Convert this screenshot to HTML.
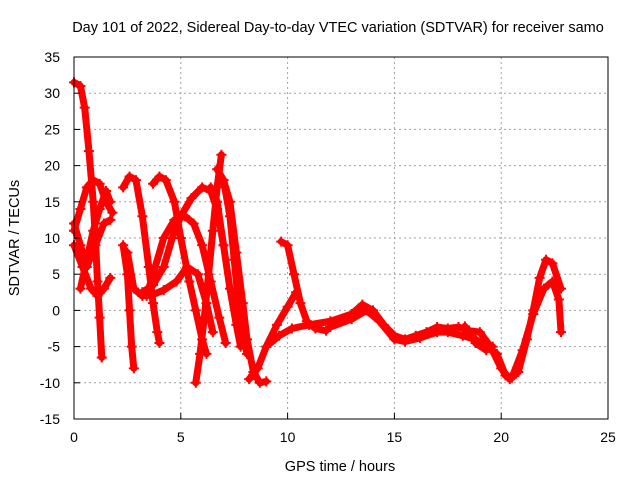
<!DOCTYPE html>
<html><head><meta charset="utf-8"><style>
html,body{margin:0;padding:0;background:#fff}
svg{display:block;font-family:"Liberation Sans",sans-serif}
</style></head><body>
<svg id="chart" width="640" height="480">
<text x="338" y="32" font-size="14.5" text-anchor="middle">Day 101 of 2022, Sidereal Day-to-day VTEC variation (SDTVAR) for receiver samo</text>
<g id="grid"></g>
<g id="series"></g>
<rect x="74" y="57" width="534" height="362" fill="none" stroke="#000" stroke-width="1"/>
<g id="ticks"></g>
<text x="340" y="471" font-size="14.5" text-anchor="middle">GPS time / hours</text>
<text transform="translate(19,238) rotate(-90)" font-size="14.5" text-anchor="middle">SDTVAR / TECUs</text>
</svg>
<script>
const xTicks=[0,5,10,15,20,25];
const yTicks=[-15,-10,-5,0,5,10,15,20,25,30,35];
const trackA=[[0,31.5],[0.3,31],[0.5,28],[0.7,22],[0.9,15],[1.0,10],[1.1,4],[1.2,-1],[1.3,-6.5]];
const trackB=[[0,11],[0.3,14],[0.6,17],[0.9,18],[1.2,17.5],[1.5,15],[1.8,13.5]];
const trackC=[[0.3,3],[0.6,7],[0.9,11],[1.2,14],[1.5,16.5],[1.7,15]];
const trackD=[[0,9],[0.4,6],[0.8,3],[1.1,2],[1.4,3],[1.7,4.5]];
const trackE=[[0,12],[0.3,9],[0.6,6],[1.0,9],[1.4,12],[1.7,12.5]];
const trackF=[[2.3,17],[2.6,18.5],[2.9,18],[3.2,13],[3.5,6],[3.7,1],[3.9,-3],[4.0,-4.5]];
const trackG=[[2.3,9],[2.5,5],[2.6,0],[2.7,-5],[2.8,-8]];
const trackH=[[3.7,17.5],[4.0,18.5],[4.3,18],[4.7,15],[5.0,10],[5.4,4],[5.7,0],[6.0,-4],[6.2,-6]];
const trackI=[[2.5,8],[2.8,3],[3.2,2],[3.7,2.2],[4.2,2.8],[4.8,4],[5.3,6],[5.8,5],[6.2,1],[6.5,-3]];
const trackJ=[[3.4,2],[3.8,6],[4.2,10],[4.7,12.5],[5.2,13],[5.6,12],[6.0,9],[6.4,4],[6.8,-1],[7.1,-4.5]];
const trackK=[[3.2,2.5],[3.7,3.5],[4.2,6],[4.6,10],[5.0,13],[5.5,15.5],[6.0,17],[6.4,16.5],[6.7,14],[7.0,9]];
const trackL=[[5.7,-10],[5.9,-6],[6.1,-1],[6.3,5],[6.5,11],[6.7,17],[6.9,21.5]];
const trackM=[[6.7,19.5],[7.0,18],[7.3,15],[7.6,8],[7.9,1],[8.1,-4],[8.4,-8.5],[8.7,-10],[9.0,-9.8]];
const trackN=[[6.4,17],[6.7,15],[7.0,9],[7.3,3],[7.6,-2],[7.8,-5]];
const trackO=[[7.0,18],[7.3,13],[7.5,7],[7.7,1],[7.9,-3],[8.1,-6]];
const trackP=[[8.2,-9.5],[8.6,-8],[9.0,-5],[9.5,-2],[10.0,0.5],[10.4,2.5]];
const trackQ=[[9.7,9.5],[10.0,9],[10.3,5],[10.6,1],[10.9,-1.5],[11.3,-2.5],[11.8,-2.8]];
const trackR=[[9.2,-4.5],[9.6,-3.5],[10.2,-2.5],[11,-2],[12,-1.5],[13,-0.5],[13.5,0.8],[14,0],[14.5,-2],[15,-3.5],[15.5,-4],[16,-3.5],[16.5,-3],[17,-2.3],[17.5,-2.5],[18,-2.3],[18.5,-2.8],[19,-3],[19.5,-5],[20,-8],[20.4,-9.5],[20.8,-8.5],[21.2,-4],[21.5,0],[21.8,4.5],[22.1,7],[22.4,6.5],[22.8,3]];
const trackS=[[12,-2.3],[13,-1.2],[13.7,0],[14.3,-1.5],[15,-4],[15.5,-4.3],[16.2,-3.8],[17,-3],[17.5,-3],[18.2,-3.5],[18.8,-4],[19.3,-5],[19.8,-6],[20.2,-9],[20.5,-9.3],[21,-5.5],[21.5,-0.5],[22,3],[22.4,4],[22.7,1.5],[22.8,-3]];
const trackT=[[18.3,-2.2],[18.8,-4.5],[19.3,-5.5],[19.6,-5]];
const tracks=[trackA,trackB,trackC,trackD,trackE,trackF,trackG,trackH,trackI,trackJ,trackK,trackL,trackM,trackN,trackO,trackP,trackQ,trackR,trackS,trackT];
const NS="http://www.w3.org/2000/svg";
const X=v=>74+v*(534/25);
const Y=v=>419-(v+15)*(362/50);
const grid=document.getElementById('grid'),ticks=document.getElementById('ticks'),ser=document.getElementById('series');
function mk(tag,attrs,parent){const e=document.createElementNS(NS,tag);for(const k in attrs)e.setAttribute(k,attrs[k]);parent.appendChild(e);return e;}
xTicks.forEach(t=>{
 if(t>0&&t<25){const l=mk('line',{x1:X(t),x2:X(t),y1:57,y2:419,stroke:'#a0a0a0','stroke-dasharray':'2,3'},grid);
 
 }
 const tk=mk('line',{x1:X(t),x2:X(t),y1:419,y2:413,stroke:'#000'},ticks);
 
 
 const tx=mk('text',{x:X(t),y:442,'font-size':'14','text-anchor':'middle'},ticks);tx.textContent=t;
 
 
});
yTicks.forEach(t=>{
 if(t>-15&&t<35){const l=mk('line',{x1:74,x2:608,y1:Y(t),y2:Y(t),stroke:'#a0a0a0','stroke-dasharray':'2,3'},grid);
 
 }
 const tk=mk('line',{x1:74,x2:80,y1:Y(t),y2:Y(t),stroke:'#000'},ticks);
 
 
 const tx=mk('text',{x:60,y:Y(t)+5,'font-size':'14','text-anchor':'end'},ticks);tx.textContent=t;
 
 
});
tracks.forEach(tr=>{
 const p=mk('polyline',{points:tr.map(d=>X(d[0])+','+Y(d[1])).join(' '),fill:'none',stroke:'#ff0000','stroke-width':'7','stroke-linejoin':'round','stroke-linecap':'round'},ser);
 
 
 tr.forEach(d=>{
  const m=mk('path',{d:'M'+(X(d[0])-5)+','+Y(d[1])+'h10M'+X(d[0])+','+(Y(d[1])-5)+'v10',stroke:'#ff0000','stroke-width':'2'},ser);
  
  
 });
});
</script>
</body></html>
